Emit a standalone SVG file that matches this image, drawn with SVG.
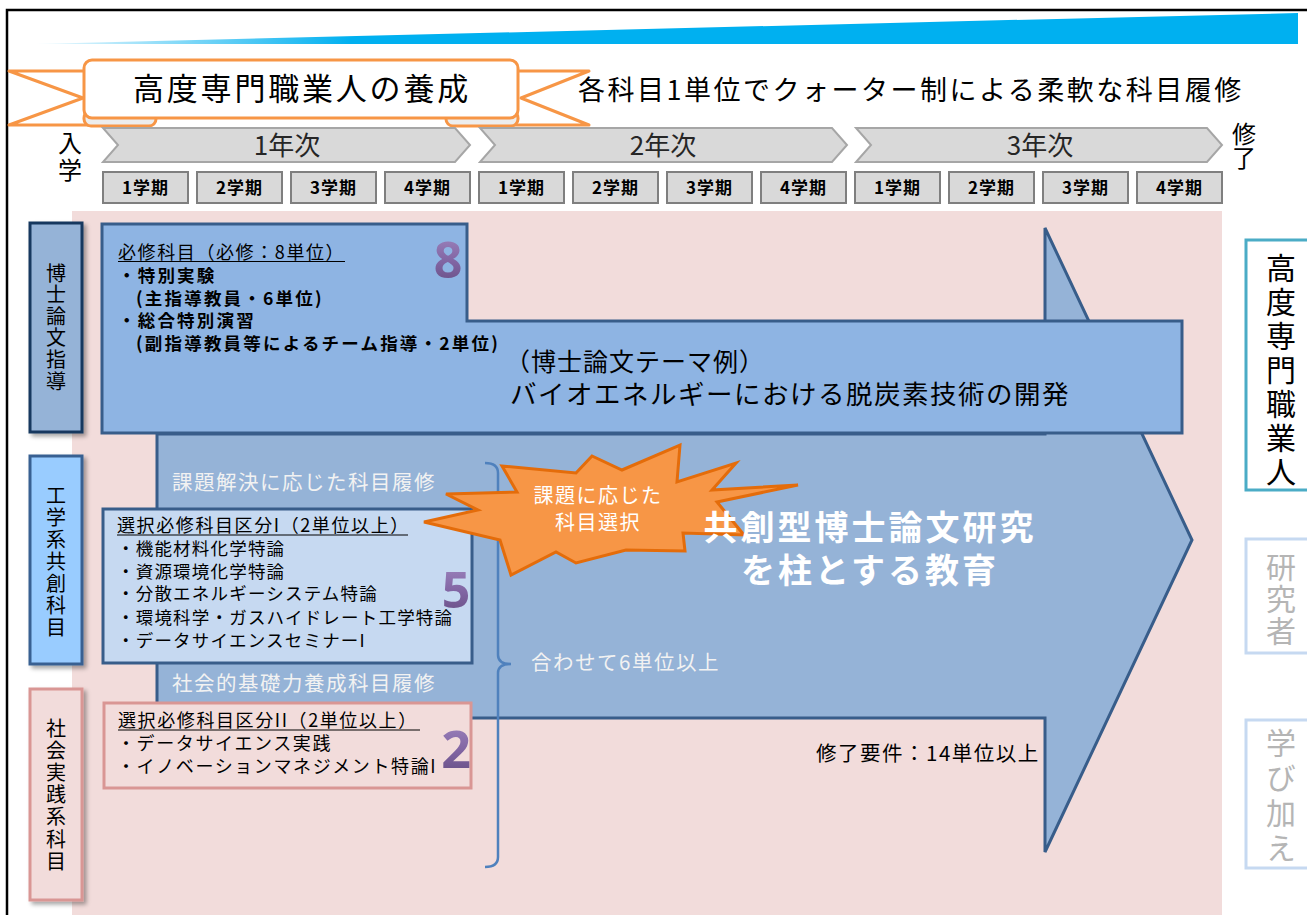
<svg xmlns="http://www.w3.org/2000/svg" width="1307" height="915" viewBox="0 0 1307 915">
<defs>
<linearGradient id="band" x1="35" y1="0" x2="1298" y2="0" gradientUnits="userSpaceOnUse">
<stop offset="0" stop-color="#00B0F0" stop-opacity="0.05"/>
<stop offset="0.25" stop-color="#00B0F0"/>
<stop offset="1" stop-color="#00B0F0"/>
</linearGradient>
<linearGradient id="num" x1="0" y1="0" x2="0" y2="1">
<stop offset="0" stop-color="#A58DC5"/>
<stop offset="0.55" stop-color="#8064A2"/>
<stop offset="1" stop-color="#60497C"/>
</linearGradient>
<filter id="sh" x="-20%" y="-10%" width="150%" height="130%">
<feDropShadow dx="3" dy="3" stdDeviation="2" flood-color="#000" flood-opacity="0.35"/>
</filter>
</defs>
<style>
text{font-family:"Noto Sans CJK JP","Noto Sans CJK SC",sans-serif;fill:#000;}
.sem rect{fill:#D9D9D9;stroke:#7F7F7F;stroke-width:2;}
.sem text{font-size:17px;font-weight:bold;text-anchor:middle;letter-spacing:1px;}
.chev polygon{fill:#D9D9D9;stroke:#A6A6A6;stroke-width:2;}
.chev text{font-size:26px;text-anchor:middle;fill:#262626;}
.rib{fill:#fff;stroke:#F79646;stroke-width:3;stroke-linejoin:round;}
.vert{writing-mode:vertical-rl;text-anchor:start;}
.lbl{font-size:20px;}
.vt{font-size:30px;}
.gr{fill:#B5B5B5;}
.b18{font-size:17.5px;font-weight:bold;letter-spacing:2.2px;}
.h18{font-size:18px;letter-spacing:1.6px;}
.it{font-size:17.5px;letter-spacing:1.2px;}
.wt{fill:#F2F2F2;font-size:20.5px;letter-spacing:1.5px;}
.big{font-family:"Open Sans","Noto Sans",sans-serif;font-weight:bold;fill:url(#num);text-anchor:middle;}
.ul{stroke:#000;stroke-width:1.2;}
</style>

<!-- frame and header band -->
<path d="M7,915 L7,10 L1307,10" fill="none" stroke="#000" stroke-width="2.5"/>
<polygon points="35,44 1298,13 1298,44" fill="url(#band)"/>

<!-- ribbon title -->
<g id="ribbon">
<polygon class="rib" points="9,71 92,71 92,125 9,125 83,98"/>
<polygon class="rib" points="589,71 510,71 510,125 589,125 521,98"/>
<rect class="rib" x="84" y="111" width="72" height="15" rx="7" style="fill:#EDEDED"/>
<rect class="rib" x="446" y="111" width="72" height="15" rx="7" style="fill:#EDEDED"/>
<rect class="rib" x="84" y="60" width="434" height="58" rx="8"/>
<text x="133" y="100" style="font-size:31px;letter-spacing:2.8px;">高度専門職業人の養成</text>
</g>
<text id="subtitle" x="578" y="100" style="font-size:27px;letter-spacing:2.5px;">各科目1単位でクォーター制による柔軟な科目履修</text>

<!-- years -->
<g id="years" class="chev">
<polygon points="103,128 455,128 470,145 455,162 103,162 118,145"/>
<polygon points="480,128 832,128 847,145 832,162 480,162 495,145"/>
<polygon points="856,128 1207,128 1222,145 1207,162 856,162 871,145"/>
<text x="287" y="155">1年次</text>
<text x="663" y="155">2年次</text>
<text x="1040" y="155">3年次</text>
</g>
<text id="nyugaku" class="vert" x="70" y="131" style="font-size:24px;letter-spacing:3px;">入学</text>
<text id="shuryo" class="vert" x="1244" y="122" style="font-size:24px;letter-spacing:0px;">修了</text>

<!-- semesters -->
<g id="semesters" class="sem">
<rect x="103" y="172" width="85" height="31"/><text x="145.5" y="194">1学期</text>
<rect x="197" y="172" width="85" height="31"/><text x="239.5" y="194">2学期</text>
<rect x="291" y="172" width="85" height="31"/><text x="333.5" y="194">3学期</text>
<rect x="385" y="172" width="85" height="31"/><text x="427.5" y="194">4学期</text>
<rect x="479" y="172" width="85" height="31"/><text x="521.5" y="194">1学期</text>
<rect x="573" y="172" width="85" height="31"/><text x="615.5" y="194">2学期</text>
<rect x="667" y="172" width="85" height="31"/><text x="709.5" y="194">3学期</text>
<rect x="761" y="172" width="85" height="31"/><text x="803.5" y="194">4学期</text>
<rect x="855" y="172" width="85" height="31"/><text x="897.5" y="194">1学期</text>
<rect x="949" y="172" width="85" height="31"/><text x="991.5" y="194">2学期</text>
<rect x="1043" y="172" width="85" height="31"/><text x="1085.5" y="194">3学期</text>
<rect x="1137" y="172" width="85" height="31"/><text x="1179.5" y="194">4学期</text>
</g>

<!-- background -->
<rect x="72" y="211" width="1150" height="704" fill="#F2DCDB"/>

<!-- left category labels -->
<g id="lbl-hakase">
<rect x="30" y="223" width="52" height="209" fill="#95B3D7" stroke="#17375E" stroke-width="3" filter="url(#sh)"/>
<text class="vert lbl" x="56" y="263" style="letter-spacing:1.6px;">博士論文指導</text>
</g>
<g id="lbl-kogaku">
<rect x="30" y="456" width="52" height="208" fill="#99CCFF" stroke="#376092" stroke-width="3" filter="url(#sh)"/>
<text class="vert lbl" x="56" y="485" style="letter-spacing:2px;">工学系共創科目</text>
</g>
<g id="lbl-shakai">
<rect x="30" y="689" width="52" height="211" fill="#F2DCDB" stroke="#D99694" stroke-width="3" filter="url(#sh)"/>
<text class="vert lbl" x="56" y="718" style="letter-spacing:2.2px;">社会実践系科目</text>
</g>

<!-- big arrow -->
<g id="arrow">
<polygon points="157,434 1045,434 1045,228 1192,540 1045,852 1045,718 157,718" fill="#95B3D7" stroke="#385D8A" stroke-width="3" stroke-linejoin="miter"/>
<text x="172" y="490" class="wt">課題解決に応じた科目履修</text>
<text x="172" y="691" class="wt">社会的基礎力養成科目履修</text>
<text x="531" y="670" class="wt">合わせて6単位以上</text>
</g>
<text id="req" x="816" y="761" style="font-size:20.5px;letter-spacing:1.5px;">修了要件：14単位以上</text>

<!-- connectors: bracket -->
<g id="connectors">
<path d="M485,463 Q498,463 498,473 L498,655 Q498,664 511,664 Q498,664 498,673 L498,857 Q498,867 485,867" fill="none" stroke="#4F81BD" stroke-width="2.5"/>
</g>

<!-- doctoral thesis box -->
<g id="box-hakase">
<polygon points="102,224 467,224 467,321 1182,321 1182,433 102,433" fill="#8EB4E3" stroke="#385D8A" stroke-width="3"/>
<text x="118" y="259" class="h18">必修科目（必修：8単位）</text>
<line class="ul" x1="118" y1="261.5" x2="345" y2="261.5"/>
<text x="118" y="282" class="b18">・特別実験</text>
<text x="136" y="305" class="b18">(主指導教員・6単位)</text>
<text x="118" y="327" class="b18">・総合特別演習</text>
<text x="136" y="350" class="b18">(副指導教員等によるチーム指導・2単位)</text>
<text x="448" y="278" class="big" style="font-size:50px;">8</text>
<text style="letter-spacing:1px;"><tspan x="505" y="371" style="font-size:25px;">（博士論文テーマ例）</tspan><tspan x="510" y="404" style="font-size:26.5px;letter-spacing:1.5px;">バイオエネルギーにおける脱炭素技術の開発</tspan></text>
</g>

<!-- engineering box -->
<g id="box-kogaku">
<rect x="103" y="509" width="369" height="154" fill="#C6D9F1" stroke="#385D8A" stroke-width="3"/>
<text x="117" y="532" class="h18">選択必修科目区分I（2単位以上）</text>
<line class="ul" x1="117" y1="535" x2="408" y2="535"/>
<text class="it"><tspan x="117" y="555">・機能材料化学特論</tspan><tspan x="117" y="578">・資源環境化学特論</tspan><tspan x="117" y="600">・分散エネルギーシステム特論</tspan><tspan x="117" y="624">・環境科学・ガスハイドレート工学特論</tspan><tspan x="117" y="647">・データサイエンスセミナーI</tspan></text>
<text x="456" y="608" class="big" style="font-size:50px;">5</text>
</g>

<!-- social practice box -->
<g id="box-shakai">
<rect x="104" y="703" width="367" height="85" fill="#F2DCDB" stroke="#D99694" stroke-width="3"/>
<text x="118" y="727" class="h18">選択必修科目区分II（2単位以上）</text>
<line class="ul" x1="118" y1="730" x2="420" y2="730"/>
<text class="h18"><tspan x="117" y="750">・データサイエンス実践</tspan><tspan x="117" y="773">・イノベーションマネジメント特論I</tspan></text>
<text x="456" y="768" class="big" style="font-size:52px;">2</text>
</g>

<!-- explosion -->
<g id="burst">
<polygon points="680,445 677,482 736,463 712,490 798,485 717,502 744,535 683,533 685,551 626,550 576,563 556,552 511,575 500,540 424,522 478,510 446,494 517,492 502,466 576,473 592,456 622,470" fill="#F79646" stroke="#E46C0A" stroke-width="3" stroke-linejoin="miter"/>
<text text-anchor="middle" style="font-size:20px;letter-spacing:1.5px;fill:#fff;"><tspan x="598" y="503">課題に応じた</tspan><tspan x="598" y="530">科目選択</tspan></text>
</g>

<!-- arrow caption (above the burst) -->
<g id="arrow-caption">
<text text-anchor="middle" style="font-size:34px;font-weight:bold;letter-spacing:3px;fill:#fff;"><tspan x="870" y="540">共創型博士論文研究</tspan><tspan x="870" y="583">を柱とする教育</tspan></text>
</g>

<!-- outcomes -->
<g id="out-senmon">
<rect x="1246" y="240" width="80" height="250" fill="#fff" stroke="#4BACC6" stroke-width="3"/>
<text class="vert vt" x="1281" y="253" style="letter-spacing:4px;">高度専門職業人</text>
</g>
<g id="out-kenkyu">
<rect x="1246" y="539" width="80" height="114" fill="#fff" stroke="#C6D9F1" stroke-width="3"/>
<text class="vert vt gr" x="1281" y="552" style="letter-spacing:2px;">研究者</text>
</g>
<g id="out-manabi">
<rect x="1246" y="720" width="80" height="148" fill="#fff" stroke="#C6D9F1" stroke-width="3"/>
<text class="vert vt gr" x="1281" y="728" style="letter-spacing:5px;">学び加え</text>
</g>
</svg>
